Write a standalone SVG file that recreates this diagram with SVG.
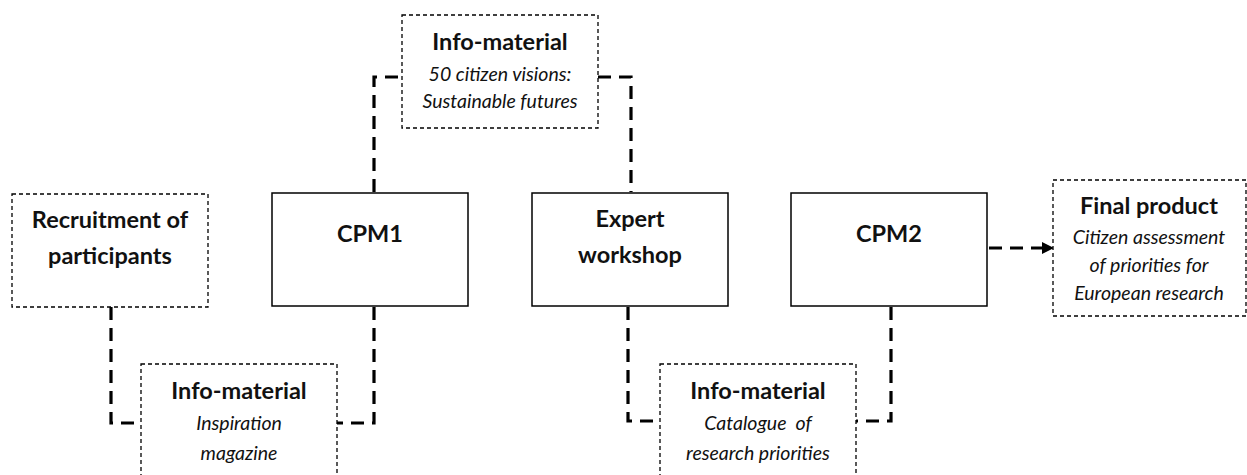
<svg xmlns="http://www.w3.org/2000/svg" width="1247" height="475" viewBox="0 0 1247 475">
  <style>
    .solid { fill: #fff; stroke: #000; stroke-width: 1.5; }
    .dashbox { fill: #fff; stroke: #000; stroke-width: 1.3; stroke-dasharray: 4 3; }
    .link { fill: none; stroke: #000; stroke-width: 3.2; stroke-dasharray: 13 8; }
    .title { font-family: Lato, "Open Sans", "Liberation Sans", sans-serif; font-weight: bold; font-size: 23.5px; fill: #111; text-anchor: middle; }
    .sub { font-family: Lato, "Open Sans", "Liberation Sans", sans-serif; font-style: italic; font-size: 19.5px; fill: #111; text-anchor: middle; }
  </style>
  <defs>
    <marker id="arrow" markerWidth="12" markerHeight="12" refX="10" refY="6" orient="auto" markerUnits="userSpaceOnUse">
      <path d="M0,0 L12,6 L0,12 Z" fill="#000"/>
    </marker>
  </defs>
  <rect width="1247" height="475" fill="#fff"/>

  <!-- connectors -->
  <g id="connectors">
    <path class="link" d="M374,192 V77 H402"/>
    <path class="link" d="M598,77 H631 V192"/>
    <path class="link" d="M111,307 V423 H141"/>
    <path class="link" d="M374,307 V423 H337"/>
    <path class="link" d="M628,307 V421 H660"/>
    <path class="link" d="M891,307 V421 H856"/>
    <path class="link" d="M989,248 H1052" marker-end="url(#arrow)"/>
  </g>

  <g id="info-visions">
    <rect class="dashbox" x="402" y="15" width="196" height="113"/>
    <text class="title" x="500" y="50">Info-material</text>
    <text class="sub" x="500" y="81">50 citizen visions:</text>
    <text class="sub" x="500" y="108">Sustainable futures</text>
  </g>

  <g id="recruitment">
    <rect class="dashbox" x="12" y="194" width="196" height="113"/>
    <text class="title" x="110" y="228">Recruitment of</text>
    <text class="title" x="110" y="264">participants</text>
  </g>

  <g id="cpm1">
    <rect class="solid" x="272" y="193" width="196" height="113"/>
    <text class="title" x="370" y="242">CPM1</text>
  </g>

  <g id="expert-workshop">
    <rect class="solid" x="532" y="193" width="196" height="113"/>
    <text class="title" x="630" y="227">Expert</text>
    <text class="title" x="630" y="263">workshop</text>
  </g>

  <g id="cpm2">
    <rect class="solid" x="791" y="193" width="196" height="113"/>
    <text class="title" x="889" y="242">CPM2</text>
  </g>

  <g id="final-product">
    <rect class="dashbox" x="1053" y="180" width="193" height="136"/>
    <text class="title" x="1149" y="214">Final product</text>
    <text class="sub" x="1149" y="244">Citizen assessment</text>
    <text class="sub" x="1149" y="272">of priorities for</text>
    <text class="sub" x="1149" y="300">European research</text>
  </g>

  <g id="info-magazine">
    <rect class="dashbox" x="141" y="364" width="196" height="120"/>
    <text class="title" x="239" y="399">Info-material</text>
    <text class="sub" x="239" y="430">Inspiration</text>
    <text class="sub" x="239" y="460">magazine</text>
  </g>

  <g id="info-catalogue">
    <rect class="dashbox" x="660" y="364" width="196" height="120"/>
    <text class="title" x="758" y="399">Info-material</text>
    <text class="sub" x="758" y="430" xml:space="preserve">Catalogue  of</text>
    <text class="sub" x="758" y="460">research priorities</text>
  </g>
</svg>
